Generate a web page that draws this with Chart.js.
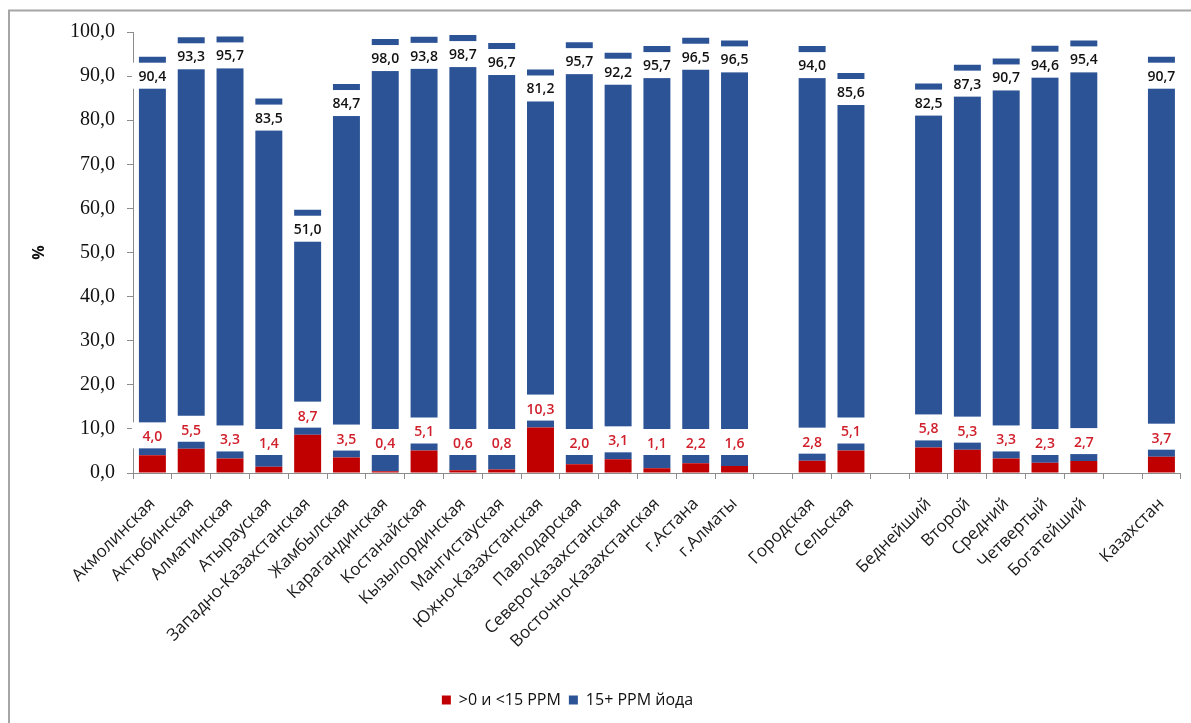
<!DOCTYPE html>
<html><head><meta charset="utf-8">
<script src="https://cdn.jsdelivr.net/npm/chart.js@4.4.0/dist/chart.umd.min.js"></script>
<style>html,body{margin:0;padding:0;background:#fff;overflow:hidden}#wrap{width:1191px;height:723px;position:relative}</style>
</head><body><div id="wrap"><canvas id="c" width="1191" height="723"></canvas></div>
<script>
const categories = ['Акмолинская','Актюбинская','Алматинская','Атырауская','Западно-Казахстанская','Жамбылская','Карагандинская','Костанайская','Кызылординская','Мангистауская','Южно-Казахстанская','Павлодарская','Северо-Казахстанская','Восточно-Казахстанская','г.Астана','г.Алматы','','Городская','Сельская','','Беднейший','Второй','Средний','Четвертый','Богатейший','','Казахстан'];
const lowIodine = [4.0,5.5,3.3,1.4,8.7,3.5,0.4,5.1,0.6,0.8,10.3,2.0,3.1,1.1,2.2,1.6,null,2.8,5.1,null,5.8,5.3,3.3,2.3,2.7,null,3.7];
const adequateIodine = [90.4,93.3,95.7,83.5,51.0,84.7,98.0,93.8,98.7,96.7,81.2,95.7,92.2,95.7,96.5,96.5,null,94.0,85.6,null,82.5,87.3,90.7,94.6,95.4,null,90.7];
const seriesNames = ['>0 и <15 PPM','15+ PPM йода'];
const yAxisTitle = '%';

const RED = '#C00000', BLUE = '#2B5396';
const fmt = v => v.toFixed(1).replace('.', ',');

const framePlugin = {
  id: 'frame',
  beforeDraw(chart) {
    const ctx = chart.ctx;
    ctx.save();
    ctx.fillStyle = '#fff';
    ctx.fillRect(0, 0, chart.width, chart.height);
    ctx.strokeStyle = '#A6A6A6';
    ctx.lineWidth = 2;
    ctx.beginPath();
    ctx.moveTo(9, chart.height);
    ctx.lineTo(9, 10.5);
    ctx.lineTo(chart.width, 10.5);
    ctx.stroke();
    ctx.restore();
  }
};

const labelPlugin = {
  id: 'barLabels',
  afterDatasetsDraw(chart) {
    const ctx = chart.ctx;
    const zeroY = chart.scales.y.getPixelForValue(0);
    ctx.save();
    ctx.font = '600 14px "Open Sans"';
    ctx.textAlign = 'center';
    ctx.textBaseline = 'middle';
    chart.data.datasets.forEach((ds, di) => {
      const meta = chart.getDatasetMeta(di);
      meta.data.forEach((bar, i) => {
        const v = ds.data[i];
        if (v == null) return;
        const w = bar.width;
        let cy, top;
        if (di === 1) { cy = bar.y + 20; top = bar.y + 6; }
        else { cy = Math.min(bar.y - 18, zeroY - 29); top = cy - 15; }
        ctx.fillStyle = '#fff';
        ctx.fillRect(bar.x - w / 2 - 7, top, w + 14, 26);
        ctx.fillStyle = di === 1 ? '#111' : '#D0202C';
        ctx.fillText(fmt(v), bar.x, cy);
      });
    });
    ctx.restore();
  }
};

const legendShift = {
  id: 'legendShift',
  afterLayout(chart) {
    if (chart.legend) { chart.legend.left -= 28; chart.legend.right -= 28; }
  }
};

new Chart(document.getElementById('c'), {
  type: 'bar',
  data: {
    labels: categories,
    datasets: [
      { label: seriesNames[0], data: lowIodine, backgroundColor: RED, borderWidth: 0 },
      { label: seriesNames[1], data: adequateIodine, backgroundColor: BLUE, borderWidth: 0 }
    ]
  },
  options: {
    responsive: false,
    animation: false,
    layout: { padding: { left: 8, top: 32, right: 8, bottom: 5 } },
    datasets: { bar: { categoryPercentage: 1, barPercentage: 0.695 } },
    plugins: {
      legend: {
        position: 'bottom',
        labels: { boxWidth: 9, boxHeight: 9, padding: 8, color: '#111', font: { family: 'Open Sans', size: 16 } }
      },
      tooltip: { enabled: false }
    },
    scales: {
      x: {
        stacked: true,
        afterFit(s) { s.height = 211; },
        border: { color: '#8C8C8C', width: 1 },
        grid: { offset: true, drawOnChartArea: false, drawTicks: true, tickLength: 6, color: '#8C8C8C' },
        ticks: { autoSkip: false, minRotation: 45, maxRotation: 45, padding: 15, color: '#1a1a1a', font: { family: 'Open Sans', size: 17 } }
      },
      y: {
        stacked: true,
        min: 0, max: 100,
        afterFit(s) { s.width = 125; },
        border: { color: '#8C8C8C', width: 1 },
        grid: { drawOnChartArea: false, drawTicks: true, tickLength: 6, color: '#8C8C8C' },
        ticks: { stepSize: 10, padding: 12, color: '#111', font: { family: 'Liberation Serif', size: 20 }, callback: v => fmt(v) },
        title: { display: true, text: yAxisTitle, color: '#111', font: { family: 'Open Sans', size: 16, weight: 'bold' }, padding: { top: 22, bottom: 0 } }
      }
    }
  },
  plugins: [framePlugin, labelPlugin, legendShift]
});
</script>
</body></html>
